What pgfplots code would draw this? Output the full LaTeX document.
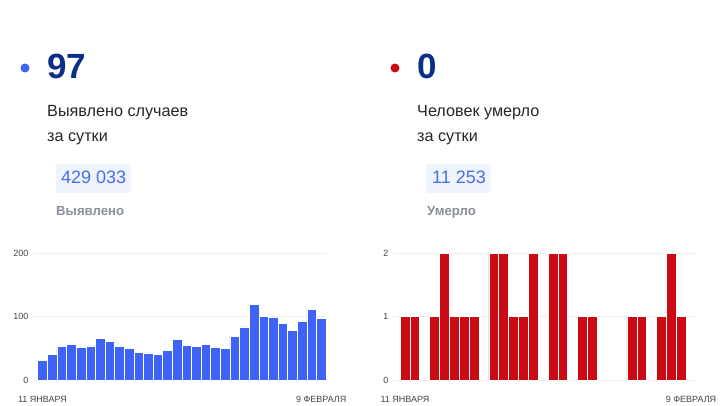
\documentclass[border=0pt]{standalone}
\usepackage{pgfplots}
\pgfplotsset{compat=1.18}
\usepackage{fontspec}
\setmainfont{Liberation Sans}
\definecolor{barblue}{HTML}{3D64F6}
\definecolor{barred}{HTML}{CC0A14}
\definecolor{numblue}{HTML}{0B2E86}
\definecolor{boxbg}{HTML}{EEF3FC}
\definecolor{boxtxt}{HTML}{4A6FE3}
\definecolor{labgray}{HTML}{8A8F99}
\definecolor{ticktxt}{HTML}{444444}
\definecolor{gridc}{HTML}{EEEEEE}
\pgfplotsset{
  mybars/.style={
    scale only axis,
    ymin=0,
    axis line style={draw=none},
    tick style={draw=none},
    ymajorgrids, grid style={gridc, line width=0.6pt},
    xtick={0,29},
    xticklabels={11 ЯНВАРЯ, 9 ФЕВРАЛЯ},
    xticklabel style={font=\fontsize{9}{10}\selectfont, text=ticktxt, anchor=base, yshift=-18.5pt},
    yticklabel style={font=\fontsize{9}{10}\selectfont, text=ticktxt, anchor=east, xshift=-1pt},
    /pgf/number format/assume math mode=true,
    ybar, bar width=1,
    clip=false,
  }
}
\begin{document}
\begin{tikzpicture}[x=1pt,y=1pt]
\useasboundingbox (0,0) rectangle (724,405);
% left panel text
\fill[barblue] (25,337) circle (4.5);
\node[anchor=base west, inner sep=0, text=numblue, font=\fontsize{35}{35}\selectfont\bfseries] at (47,326) {97};
\node[anchor=base west, inner sep=0, text=black!85, font=\fontsize{16.2}{17}\selectfont] at (47,288) {Выявлено случаев};
\node[anchor=base west, inner sep=0, text=black!85, font=\fontsize{16.2}{17}\selectfont] at (47,263) {за сутки};
\fill[boxbg, rounded corners=3pt] (56,212) rectangle (131,241);
\node[anchor=base west, inner sep=0, text=boxtxt, font=\fontsize{18}{18}\selectfont] at (61,221) {429 033};
\node[anchor=base west, inner sep=0, text=labgray, font=\fontsize{13.2}{14}\selectfont\bfseries] at (56,189) {Выявлено};
% right panel text
\fill[barred] (395,337) circle (4.5);
\node[anchor=base west, inner sep=0, text=numblue, font=\fontsize{35}{35}\selectfont\bfseries] at (417,326) {0};
\node[anchor=base west, inner sep=0, text=black!85, font=\fontsize{16.2}{17}\selectfont] at (417,288) {Человек умерло};
\node[anchor=base west, inner sep=0, text=black!85, font=\fontsize{16.2}{17}\selectfont] at (417,263) {за сутки};
\fill[boxbg, rounded corners=3pt] (426,212) rectangle (491,241);
\node[anchor=base west, inner sep=0, text=boxtxt, font=\fontsize{18}{18}\selectfont] at (432,221) {11 253};
\node[anchor=base west, inner sep=0, text=labgray, font=\fontsize{13.2}{14}\selectfont\bfseries] at (427,189) {Умерло};
% left chart
\begin{axis}[mybars, at={(33pt,25pt)}, anchor=south west,
  width=294pt, height=126.7pt, xmin=-0.99, xmax=29.6, ymax=200,
  ytick={0,100,200}]
\addplot[fill=barblue, draw=white, line width=0.5pt] coordinates {
(0,31) (1,40) (2,53) (3,56) (4,52) (5,54) (6,66) (7,61) (8,53) (9,50)
(10,44) (11,43) (12,40) (13,47) (14,64) (15,55) (16,53) (17,56) (18,52) (19,50)
(20,69) (21,84) (22,119) (23,101) (24,99) (25,89) (26,78) (27,93) (28,111) (29,97)};
\end{axis}
% right chart
\begin{axis}[mybars, at={(393pt,25pt)}, anchor=south west,
  width=303pt, height=126.7pt, xmin=-1.21, xmax=29.5, ymax=2,
  ytick={0,1,2}]
\addplot[fill=barred, draw=white, line width=0.5pt] coordinates {
(0,1) (1,1) (2,0) (3,1) (4,2) (5,1) (6,1) (7,1) (8,0) (9,2)
(10,2) (11,1) (12,1) (13,2) (14,0) (15,2) (16,2) (17,0) (18,1) (19,1)
(20,0) (21,0) (22,0) (23,1) (24,1) (25,0) (26,1) (27,2) (28,1) (29,0)};
\end{axis}
\end{tikzpicture}
\end{document}
